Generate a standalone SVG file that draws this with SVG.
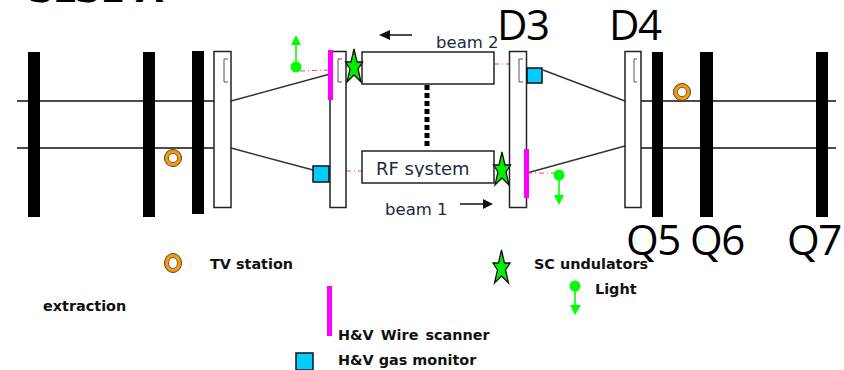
<svg xmlns="http://www.w3.org/2000/svg" width="844" height="370" viewBox="0 0 844 370">
<style>
.q{fill:#000}
.d{fill:#fff;stroke:#222;stroke-width:1.5}
.br{fill:none;stroke:#555;stroke-width:1}
.b{fill:none;stroke:#111;stroke-width:1.6}
.l{fill:none;stroke:#333;stroke-width:1.4}
.red{fill:none;stroke:#f44;stroke-width:1;stroke-dasharray:5 3 1 3}
.w{fill:#f0f}
.g{fill:#0cf;stroke:#111;stroke-width:1.5}
.s{fill:#0e0;stroke:#111;stroke-width:1.3}
.lg{fill:#0f0;stroke:none}
.lgl{stroke:#0f0;stroke-width:1.6;fill:none}
.big{font:42px "Open Sans",sans-serif;fill:#000;letter-spacing:-1.5px}
.m{font:16.500px "DejaVu Sans",sans-serif;fill:#1c2a3c}
.rf{font:18px "DejaVu Sans",sans-serif;fill:#1c2a3c}
.t{font:bold 14.400px "DejaVu Sans",sans-serif;fill:#111}
</style>
<defs>
<polygon id="star" points="0,-17 3,-4 8.500,-4 4,3 7,16 0,9 -7,16 -4,3 -8.500,-4 -3,-4"/>
<g id="tvs"><circle r="8.500" fill="#f90" stroke="#444" stroke-width="1"/><circle r="4.600" fill="#fff" stroke="#444" stroke-width="0.800"/></g>
<clipPath id="rfclip"><rect x="362" y="151" width="132" height="26"/></clipPath>
</defs>
<text x="28" y="2" style="font:bold 36px 'DejaVu Sans',sans-serif;letter-spacing:-1px" fill="#000">SLS1 A</text>
<g id="connectors">
<path class="b" d="M17 101H214M17 148H214M640 101H836M640 148H836"/>
<path class="l" d="M231 101L330 74M231 148L313 170"/>
<path class="l" d="M543 70L625 101M527 173L625 146"/>
<path class="red" d="M300 71L329 70M346 171H362M494 64H509M527 173H555M346 66H362"/>
<path d="M427 85V148" stroke="#000" stroke-width="5" stroke-dasharray="5 3" fill="none"/>
<path d="M412 35H386" stroke="#111" stroke-width="1.500"/><polygon points="379,35 390,30 390,40" fill="#111"/>
<path d="M460 204H484" stroke="#111" stroke-width="1.500"/><polygon points="493,204 483,199 483,209" fill="#111"/>
</g>
<g id="Q1"><rect class="q" x="28" y="52" width="12" height="165"/></g>
<g id="Q2"><rect class="q" x="143" y="52" width="12" height="165"/></g>
<g id="Q3"><rect class="q" x="192" y="51" width="12" height="163"/></g>
<g id="D1"><rect class="d" x="214" y="51.500" width="17" height="156"/><path class="br" d="M228 59H224V82H228"/></g>
<g id="D2"><rect class="d" x="330" y="51.500" width="16" height="156"/><path class="br" d="M342 59H338V82H342"/></g>
<g id="D3"><rect class="d" x="509.500" y="51.500" width="17" height="156"/><path class="br" d="M523 59H519V82H523"/><text class="big" x="497" y="40">D3</text></g>
<g id="D4"><rect class="d" x="625" y="51.500" width="16" height="156"/><path class="br" d="M637 59H634V82H637"/><text class="big" x="609" y="40">D4</text></g>
<g id="Q5"><rect class="q" x="652" y="52" width="11" height="165"/><text class="big" x="626" y="255">Q5</text></g>
<g id="Q6"><rect class="q" x="700" y="52" width="13" height="165"/><text class="big" x="690" y="255">Q6</text></g>
<g id="Q7"><rect class="q" x="816" y="52" width="12" height="165"/><text class="big" x="787" y="255">Q7</text></g>
<g id="beam2box"><rect class="d" x="362" y="52" width="132" height="32"/><text class="m" x="436" y="48">beam 2</text></g>
<g id="rfbox"><rect class="d" x="362" y="151" width="132" height="32"/><text class="rf" x="376" y="175" clip-path="url(#rfclip)">RF system</text><text class="m" x="385" y="215">beam 1</text></g>
<g id="scanner1"><rect class="w" x="328" y="50" width="5" height="50"/></g>
<g id="scanner2"><rect class="w" x="524" y="149" width="5" height="49"/></g>
<g id="monitor1"><rect class="g" x="313" y="166" width="16" height="16"/></g>
<g id="monitor2"><rect class="g" x="527" y="68" width="15" height="15"/></g>
<g id="und1"><use class="s" href="#star" x="354" y="66"/></g>
<g id="und2"><use class="s" href="#star" x="502" y="169"/></g>
<g id="light1"><circle class="lg" cx="296" cy="67" r="5.500"/><path class="lgl" d="M296 67V44"/><polygon class="lg" points="296,35 291,45 301,45"/></g>
<g id="light2"><circle class="lg" cx="559" cy="175" r="5.500"/><path class="lgl" d="M559 175V197"/><polygon class="lg" points="559,205 554,195 564,195"/></g>
<g id="tv1"><use href="#tvs" x="173" y="158"/></g>
<g id="tv2"><use href="#tvs" x="682" y="92"/></g>
<g id="legend-tv"><ellipse cx="173" cy="263" rx="8.500" ry="9.500" fill="#f90" stroke="#444"/><ellipse cx="173" cy="263" rx="4.500" ry="5.500" fill="#fff" stroke="#444" stroke-width="0.800"/><text class="t" x="210" y="269">TV station</text></g>
<text class="t" x="43" y="311">extraction</text>
<g id="legend-und"><use class="s" href="#star" x="501.500" y="267"/><text class="t" x="534" y="269">SC undulators</text></g>
<g id="legend-light"><circle class="lg" cx="575" cy="286" r="5.500"/><path class="lgl" d="M575 286V306"/><polygon class="lg" points="575,315 570,305 581,305"/><text class="t" x="595" y="294">Light</text></g>
<g id="legend-wire"><rect class="w" x="327" y="286" width="5" height="50"/><text class="t" x="338" y="340" word-spacing="2">H&amp;V Wire scanner</text></g>
<g id="legend-gas"><rect class="g" x="296" y="353" width="17" height="17"/><text class="t" x="338" y="365">H&amp;V gas monitor</text></g>
</svg>
